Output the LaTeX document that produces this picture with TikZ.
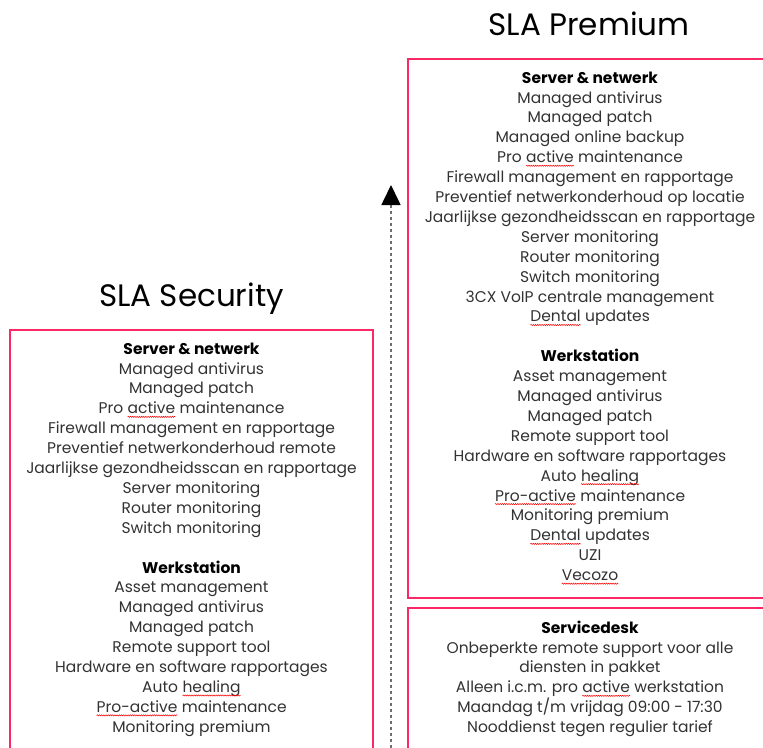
\documentclass[tikz,border=0pt]{standalone}
\usepackage{fontspec}
\setmainfont{Poppins}
\usetikzlibrary{arrows.meta, positioning, decorations.pathmorphing}

\definecolor{slaPink}{RGB}{250,40,100}
\definecolor{slaText}{RGB}{50,50,50}
\definecolor{slaDash}{RGB}{110,110,110}

\begin{document}
\begin{tikzpicture}[
    x=1pt, y=-1pt,
    slaBox/.style = {
        draw=slaPink,
        line width=2pt,
        rectangle,
        anchor=north west,
        outer sep=0pt,
        inner sep=0pt,
    },
    slaTitle/.style = {
        anchor=base,
        font=\fontsize{31}{36}\selectfont,
        text=black,
    },
    slaList/.style = {
        anchor=north,
        align=center,
        inner sep=0pt,
        text=slaText,
        font=\fontsize{15.5}{19.9}\selectfont,
    },
    typoLine/.style = {
        draw=red,
        line width=0.5pt,
        decorate,
        decoration={snake, amplitude=0.6pt, segment length=2.2pt},
    },
    upgrade/.style = {
        draw=slaDash,
        line width=1.6pt,
        dash pattern=on 3.5pt off 2.5pt,
        -{Triangle[width=19pt, length=20pt, color=black]},
    },
]

\newcommand{\typo}[1]{%
    \tikz[baseline=(w.base)]{%
        \node[anchor=base, inner sep=0pt, outer sep=0pt](w){#1};%
        \draw[typoLine] ([yshift=-3pt]w.base west) -- ([yshift=-3pt]w.base east);%
    }%
}
\newcommand{\head}[1]{{\color{black}\bfseries #1}}

\useasboundingbox (0,0) rectangle (763,747);
\clip (0,0) rectangle (763,747);

% titles
\node[slaTitle] (premiumTitle) at (589,35) {SLA Premium};
\node[slaTitle] (securityTitle) at (191.5,306) {SLA Security};

% boxes
\node[slaBox, minimum width=363pt, minimum height=440pt] (securityBox) at (10,330) {};
\node[slaBox, minimum width=364pt, minimum height=539pt] (premiumBox) at (408,59) {};
\node[slaBox, minimum width=364pt, minimum height=160pt] (servicedeskBox) at (408,608) {};

\node[slaList, below=12.5pt of premiumBox.north] (premiumList) {
    \head{Server \& netwerk}\\
    Managed antivirus\\
    Managed patch\\
    Managed online backup\\
    Pro \typo{active} maintenance\\
    Firewall management en rapportage\\
    Preventief netwerkonderhoud op locatie\\
    Jaarlijkse gezondheidsscan en rapportage\\
    Server monitoring\\
    Router monitoring\\
    Switch monitoring\\
    3CX VoIP centrale management\\
    \typo{Dental} updates\\[19.9pt]
    \head{Werkstation}\\
    Asset management\\
    Managed antivirus\\
    Managed patch\\
    Remote support tool\\
    Hardware en software rapportages\\
    Auto \typo{healing}\\
    \typo{Pro-active} maintenance\\
    Monitoring premium\\
    \typo{Dental} updates\\
    UZI\\
    \typo{Vecozo}
};

\node[slaList, below=12.5pt of securityBox.north] (securityList) {
    \head{Server \& netwerk}\\
    Managed antivirus\\
    Managed patch\\
    Pro \typo{active} maintenance\\
    Firewall management en rapportage\\
    Preventief netwerkonderhoud remote\\
    Jaarlijkse gezondheidsscan en rapportage\\
    Server monitoring\\
    Router monitoring\\
    Switch monitoring\\[19.9pt]
    \head{Werkstation}\\
    Asset management\\
    Managed antivirus\\
    Managed patch\\
    Remote support tool\\
    Hardware en software rapportages\\
    Auto \typo{healing}\\
    \typo{Pro-active} maintenance\\
    Monitoring premium
};

\node[slaList, below=12.5pt of servicedeskBox.north] (servicedeskList) {
    \head{Servicedesk}\\
    Onbeperkte remote support voor alle\\
    diensten in pakket\\
    Alleen i.c.m. pro \typo{active} werkstation\\
    Maandag t/m vrijdag 09:00 - 17:30\\
    Nooddienst tegen regulier tarief
};

% upgrade path
\coordinate (upgradeStart) at (391,760);
\coordinate (upgradeEnd) at (391,185);
\draw[upgrade] (upgradeStart) -- (upgradeEnd);

\end{tikzpicture}
\end{document}
